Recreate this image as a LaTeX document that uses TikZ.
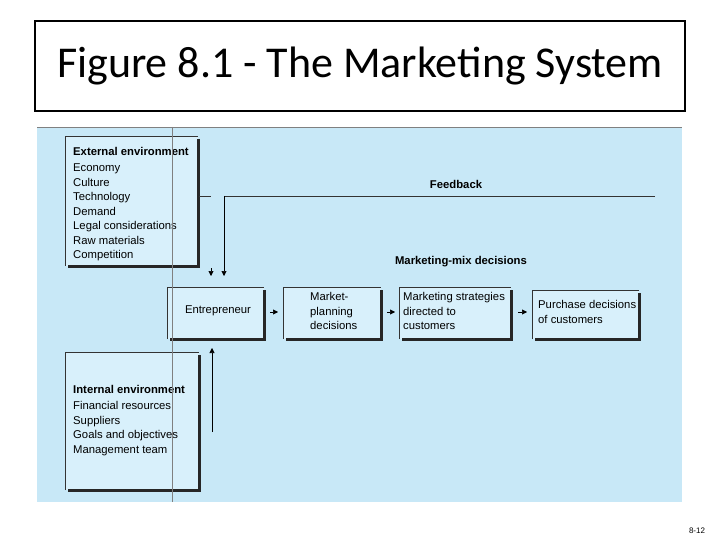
\documentclass[tikz,border=0pt]{standalone}
\usepackage{fontspec}
\setmainfont{Liberation Sans}
\newfontfamily\titlefont{Carlito}
\definecolor{bg}{HTML}{C8E8F7}
\definecolor{boxf}{HTML}{D8F0FB}
\tikzset{
  px/.style={x=1pt,y=-1pt},
  lbl/.style={inner sep=0pt,font=\fontsize{11.3}{14.5}\selectfont,align=left},
  shadow/.style={line width=3pt,black!85},
  thin/.style={line width=0.6pt,black!80},
  arr/.style={-{Triangle[length=5pt,width=5pt]},line width=0.6pt}
}
\usetikzlibrary{arrows.meta}
\newcommand{\mybox}[5]{%
  \fill[boxf] (#1,#2) rectangle (#3,#4);
  \draw[thin] (#1,#4) -- (#1,#2) -- (#3,#2);
  \draw[shadow] (#3,#2+3) -- (#3,#4) -- (#1+3,#4);
  \node[lbl,anchor=north west] (#5) at (#1,#2) {};
}
\begin{document}
\begin{tikzpicture}[px]
\useasboundingbox (0,0) rectangle (720,540);
\fill[white] (0,0) rectangle (720,540);
\node[draw,line width=2pt,minimum width=650pt,minimum height=90pt,inner sep=0pt,
  font=\titlefont\fontsize{44}{50}\selectfont] (title) at (360,66) {Figure 8.1 - The Marketing System};
\fill[bg] (37,127) rectangle (682,502);
\draw[gray,line width=0.6pt] (37,127) -- (682,127);
\mybox{65}{136}{198}{266}{ext}
\mybox{65}{352}{199}{490}{int}
\mybox{167}{287}{264}{339}{ent}
\mybox{283}{287}{381}{339}{mpd}
\mybox{399}{287}{511}{339}{msd}
\mybox{532}{290}{639}{339}{pdc}
\node[lbl,anchor=north west] (extt) at (73,147) {\textbf{External environment}\\[2pt]Economy\\Culture\\Technology\\Demand\\Legal considerations\\Raw materials\\Competition};
\node[lbl,anchor=north west] (intt) at (73,385) {\textbf{Internal environment}\\[2pt]Financial resources\\Suppliers\\Goals and objectives\\Management team};
\node[lbl] (entt) at (218,311) {Entrepreneur};
\node[lbl,anchor=west] (mpdt) at (310,311) {Market-\\planning\\decisions};
\node[lbl,anchor=west] (msdt) at (403,311) {Marketing strategies\\directed to\\customers};
\node[lbl,anchor=west] (pdct) at (538,312) {Purchase decisions\\of customers};
\node[lbl,font=\bfseries\fontsize{11.3}{14}\selectfont] (fb) at (456,184) {Feedback};
\node[lbl,font=\bfseries\fontsize{11.3}{14}\selectfont] (mm) at (461,262) {Marketing-mix decisions};
\node[lbl,font=\fontsize{8}{10}\selectfont] (pg) at (697,531) {8-12};
\draw[gray,line width=0.8pt] (172,127) -- (172,502);
\coordinate (f1) at (655,196);
\coordinate (f2) at (224,196);
\coordinate (f3) at (224,276);
\draw[thin] (f1) -- (f2);
\draw[arr] (f2) -- (f3);
\coordinate (e1) at (199,196);
\coordinate (e2) at (211,196);
\draw[thin] (e1) -- (e2);
\coordinate (e3) at (211,268);
\coordinate (e4) at (211,276);
\draw[arr] (e3) -- (e4);
\coordinate (i1) at (212,432);
\coordinate (i2) at (212,348);
\draw[arr] (i1) -- (i2);
\coordinate (a1) at (270,312); \coordinate (a2) at (278,312);
\coordinate (b1) at (387,312); \coordinate (b2) at (395,312);
\coordinate (c1) at (518,312); \coordinate (c2) at (527,312);
\draw[arr] (a1) -- (a2);
\draw[arr] (b1) -- (b2);
\draw[arr] (c1) -- (c2);
\end{tikzpicture}
\end{document}
